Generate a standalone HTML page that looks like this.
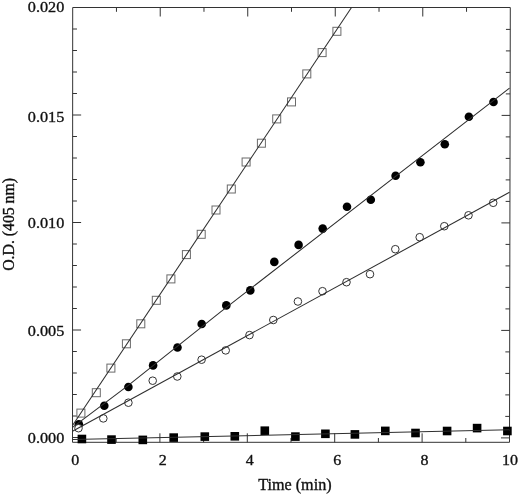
<!DOCTYPE html>
<html><head><meta charset="utf-8"><title>Figure</title>
<style>html,body{margin:0;padding:0;background:#fff}svg{display:block}</style></head>
<body>
<svg width="520" height="495" viewBox="0 0 520 495">
<rect width="520" height="495" fill="#fff"/>
<g stroke="#333" stroke-width="1" fill="none">
<polygon points="72.7,7.5 510.3,7.5 509.5,442.3 72.5,442.3"/>
<path d="M72.50 437.5h8.5M509.51 437.9h-8.5 M72.51 416.0h4.3M509.55 416.4h-4.3 M72.52 394.5h4.3M509.59 394.9h-4.3 M72.53 373.0h4.3M509.63 373.4h-4.3 M72.54 351.5h4.3M509.67 351.9h-4.3 M72.55 330.0h8.5M509.71 330.4h-8.5 M72.56 308.5h4.3M509.75 308.9h-4.3 M72.57 287.0h4.3M509.79 287.4h-4.3 M72.58 265.5h4.3M509.83 265.9h-4.3 M72.59 244.0h4.3M509.86 244.4h-4.3 M72.60 222.5h8.5M509.90 222.9h-8.5 M72.61 201.0h4.3M509.94 201.4h-4.3 M72.62 179.5h4.3M509.98 179.9h-4.3 M72.63 158.0h4.3M510.02 158.4h-4.3 M72.64 136.5h4.3M510.06 136.9h-4.3 M72.65 115.0h8.5M510.10 115.4h-8.5 M72.66 93.5h4.3M510.14 93.9h-4.3 M72.67 72.0h4.3M510.18 72.4h-4.3 M72.68 50.5h4.3M510.22 50.9h-4.3 M72.69 29.0h4.3M510.26 29.4h-4.3 M116.20 442.3v-4.3M116.46 7.5v4.3 M159.90 442.3v-9M160.22 7.5v9 M203.60 442.3v-4.3M203.98 7.5v4.3 M247.30 442.3v-9M247.74 7.5v9 M291.00 442.3v-4.3M291.50 7.5v4.3 M334.70 442.3v-9M335.26 7.5v9 M378.40 442.3v-4.3M379.02 7.5v4.3 M422.10 442.3v-9M422.78 7.5v9 M465.80 442.3v-4.3M466.54 7.5v4.3"/>
</g>
<g fill="#000">
<circle cx="78.9" cy="424.2" r="4.3"/>
<circle cx="104.3" cy="405.8" r="4.3"/>
<circle cx="128.4" cy="387" r="4.3"/>
<circle cx="153.1" cy="365.4" r="4.3"/>
<circle cx="177.5" cy="347.5" r="4.3"/>
<circle cx="201.7" cy="324" r="4.3"/>
<circle cx="226.3" cy="305.4" r="4.3"/>
<circle cx="250.3" cy="290.4" r="4.3"/>
<circle cx="274.3" cy="261.9" r="4.3"/>
<circle cx="298.6" cy="244.9" r="4.3"/>
<circle cx="322.7" cy="228.6" r="4.3"/>
<circle cx="347" cy="206.8" r="4.3"/>
<circle cx="370.8" cy="199.8" r="4.3"/>
<circle cx="395.6" cy="175.7" r="4.3"/>
<circle cx="420.4" cy="162.2" r="4.3"/>
<circle cx="444.8" cy="144.3" r="4.3"/>
<circle cx="468.9" cy="116.7" r="4.3"/>
<circle cx="493.5" cy="102" r="4.3"/>
<rect x="77.6" y="434.7" width="8.6" height="8.6"/>
<rect x="107.2" y="435.3" width="8.6" height="8.6"/>
<rect x="138.5" y="435.6" width="8.6" height="8.6"/>
<rect x="169.4" y="433.3" width="8.6" height="8.6"/>
<rect x="200.5" y="432.3" width="8.6" height="8.6"/>
<rect x="230.5" y="432.0" width="8.6" height="8.6"/>
<rect x="260.5" y="426.4" width="8.6" height="8.6"/>
<rect x="291.1" y="432.3" width="8.6" height="8.6"/>
<rect x="321.1" y="429.5" width="8.6" height="8.6"/>
<rect x="350.6" y="430.1" width="8.6" height="8.6"/>
<rect x="381.0" y="426.6" width="8.6" height="8.6"/>
<rect x="411.2" y="428.7" width="8.6" height="8.6"/>
<rect x="442.8" y="426.7" width="8.6" height="8.6"/>
<rect x="472.8" y="423.8" width="8.6" height="8.6"/>
<rect x="503.1" y="426.7" width="8.6" height="8.6"/>
</g>
<g stroke="#6a6a6a" stroke-width="1" fill="#fff">
<rect x="76.9" y="409.1" width="8" height="8"/>
<rect x="92.3" y="388.7" width="8" height="8"/>
<rect x="106.9" y="364.1" width="8" height="8"/>
<rect x="122.4" y="339.8" width="8" height="8"/>
<rect x="136.8" y="319.8" width="8" height="8"/>
<rect x="152.3" y="296.3" width="8" height="8"/>
<rect x="166.9" y="274.9" width="8" height="8"/>
<rect x="182.4" y="250.6" width="8" height="8"/>
<rect x="197.2" y="230.3" width="8" height="8"/>
<rect x="212.0" y="206.0" width="8" height="8"/>
<rect x="227.3" y="185.0" width="8" height="8"/>
<rect x="242.1" y="158.0" width="8" height="8"/>
<rect x="257.4" y="139.2" width="8" height="8"/>
<rect x="272.7" y="114.9" width="8" height="8"/>
<rect x="287.5" y="97.9" width="8" height="8"/>
<rect x="302.8" y="69.9" width="8" height="8"/>
<rect x="318.1" y="48.6" width="8" height="8"/>
<rect x="332.9" y="27.3" width="8" height="8"/>
</g><g stroke="#333" stroke-width="1" fill="#fff">
<circle cx="78.5" cy="428.2" r="3.8"/>
<circle cx="103.3" cy="418.4" r="3.8"/>
<circle cx="128.4" cy="402.7" r="3.8"/>
<circle cx="152.7" cy="380.7" r="3.8"/>
<circle cx="177.3" cy="376.5" r="3.8"/>
<circle cx="201.6" cy="359.7" r="3.8"/>
<circle cx="225.7" cy="350.4" r="3.8"/>
<circle cx="249.5" cy="335.1" r="3.8"/>
<circle cx="273.3" cy="320" r="3.8"/>
<circle cx="297.9" cy="301.5" r="3.8"/>
<circle cx="322.5" cy="291.2" r="3.8"/>
<circle cx="346.5" cy="282.2" r="3.8"/>
<circle cx="370.0" cy="274.2" r="3.8"/>
<circle cx="395.3" cy="249.2" r="3.8"/>
<circle cx="419.7" cy="237.2" r="3.8"/>
<circle cx="444.3" cy="226.2" r="3.8"/>
<circle cx="468.5" cy="215.3" r="3.8"/>
<circle cx="493.2" cy="202.8" r="3.8"/>
</g>
<g stroke="#2e2e2e" stroke-width="1.05" fill="none">
<polyline points="72.5,425.5 351.5,7.5"/>
<polyline points="72.5,427.4 128.3,385.3 220,312.3 509.5,88.1"/>
<polyline points="72.5,431.2 509.5,192.3"/>
<polyline points="72.5,439.6 509.5,429.8"/>
</g>
<g font-family="'Liberation Serif', serif" font-size="16" fill="#111" stroke="#111" stroke-width="0.35">
<text transform="translate(64.3,443.25) scale(1,0.95)" text-anchor="end" font-size="16.2">0.000</text>
<text transform="translate(64.3,336.35) scale(1,0.95)" text-anchor="end" font-size="16.2">0.005</text>
<text transform="translate(64.3,227.95) scale(1,0.95)" text-anchor="end" font-size="16.2">0.010</text>
<text transform="translate(64.3,122.25) scale(1,0.95)" text-anchor="end" font-size="16.2">0.015</text>
<text transform="translate(64.3,12.35) scale(1,0.95)" text-anchor="end" font-size="16.2">0.020</text>
<text transform="translate(75.3,464.6) scale(1,0.95)" text-anchor="middle">0</text>
<text transform="translate(162.7,464.6) scale(1,0.95)" text-anchor="middle">2</text>
<text transform="translate(249.7,464.6) scale(1,0.95)" text-anchor="middle">4</text>
<text transform="translate(337.2,464.6) scale(1,0.95)" text-anchor="middle">6</text>
<text transform="translate(424.4,464.6) scale(1,0.95)" text-anchor="middle">8</text>
<text transform="translate(510.0,464.6) scale(1,0.95)" text-anchor="middle">10</text>
<text x="294.9" y="489.5" text-anchor="middle" font-size="16.15">Time (min)</text>
<text transform="translate(13.6,224.4) rotate(-90)" text-anchor="middle" font-size="15.75">O.D. (405 nm)</text>
</g>
</svg>
</body></html>
